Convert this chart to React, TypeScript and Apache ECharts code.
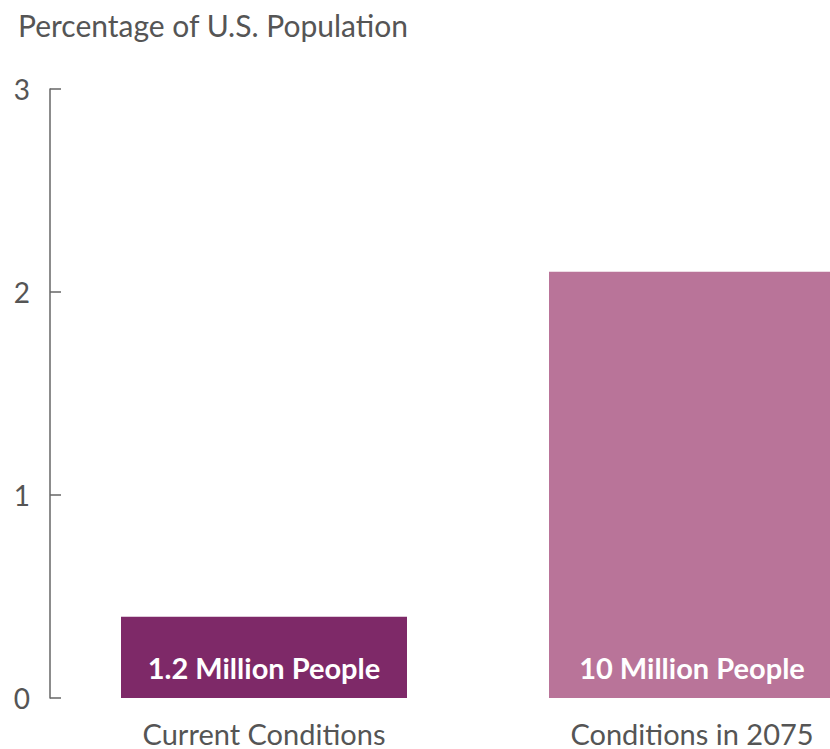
import React, { useEffect, useRef } from "react";
import * as echarts from "echarts";

const categories = ["Current Conditions", "Conditions in 2075"];
const values = [0.4, 2.1];
const barLabels = ["1.2 Million People", "10 Million People"];
const barColors = ["#7e2968", "#b97499"];
const yTicks = { min: 0, max: 3, interval: 1 };
const titleText = "Percentage of U.S. Population";

const FONT = "Lato, 'Noto Sans', sans-serif";

export default function App() {
  const ref = useRef<HTMLDivElement>(null);
  useEffect(() => {
    if (!ref.current) return;
    const chart = echarts.init(ref.current, undefined, { renderer: "svg" });
    chart.setOption({
      animation: false,
      title: {
        text: titleText,
        left: 13,
        top: 5,
        textStyle: { fontFamily: FONT, fontSize: 30, fontWeight: "normal", color: "#555" },
      },
      grid: { left: 50, right: 0, top: 89, bottom: 51, containLabel: false },
      xAxis: {
        type: "category",
        data: categories,
        axisLine: { show: false },
        axisTick: { show: false },
        axisLabel: { fontFamily: FONT, fontSize: 29, lineHeight: 28, color: "#555", margin: 21 },
      },
      yAxis: {
        type: "value",
        min: yTicks.min,
        max: yTicks.max,
        interval: yTicks.interval,
        axisLine: { show: true, lineStyle: { color: "#666", width: 1.5 } },
        axisTick: { show: true, inside: true, length: 11, lineStyle: { color: "#666", width: 1.5 } },
        splitLine: { show: false },
        axisLabel: { fontFamily: FONT, fontSize: 28, color: "#555", margin: 20 },
      },
      series: [
        {
          type: "bar",
          barWidth: 286,
          data: values.map((v, i) => ({
            value: v,
            itemStyle: { color: barColors[i] },
            label: {
              show: true,
              position: "insideBottom",
              distance: 16,
              formatter: barLabels[i],
              fontFamily: FONT,
              fontSize: 29,
              fontWeight: "bold",
              color: "#fff",
            },
          })),
        },
      ],
    });
    return () => chart.dispose();
  }, []);
  return (
    <div
      style={{ position: "absolute", left: 0, top: 0, width: 830, height: 749, overflow: "hidden", background: "#fff" }}
    >
      <div ref={ref} style={{ width: 906, height: 749 }} />
    </div>
  );
}
